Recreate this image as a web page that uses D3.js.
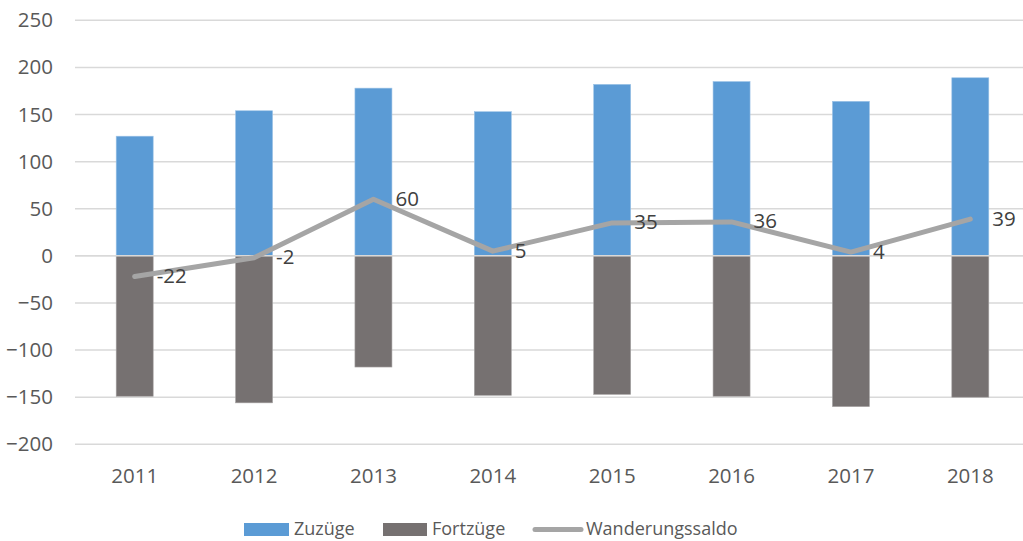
<!DOCTYPE html>
<html><head><meta charset="utf-8">
<script src="https://cdn.jsdelivr.net/npm/d3@7"></script>
<style>body{margin:0;background:#fff;} svg{display:block;}</style>
</head><body>
<script>
const years = ["2011","2012","2013","2014","2015","2016","2017","2018"];
const zuzuege = [127,154,178,153,182,185,164,189];
const fortzuege = [-149,-156,-118,-148,-147,-149,-160,-150];
const saldo = [-22,-2,60,5,35,36,4,39];
const yTicks = [250,200,150,100,50,0,-50,-100,-150,-200];
const seriesNames = ["Zuzüge","Fortzüge","Wanderungssaldo"];

const W=1023,H=541;
const font = "'Open Sans', sans-serif";
const svg = d3.select("body").append("svg").attr("width",W).attr("height",H);
const x = d3.scaleBand().domain(years).range([75,1030]);
const y = d3.scaleLinear().domain([-200,250]).range([444.3,20.3]);

// gridlines
svg.append("g").selectAll("line").data(yTicks).join("line")
  .attr("x1",75).attr("x2",1030).attr("y1",d=>y(d)).attr("y2",d=>y(d))
  .attr("stroke","#D9D9D9").attr("stroke-width",1.5);

// y axis labels
const yAxis = d3.axisLeft(y).tickValues(yTicks).tickSize(0).tickPadding(0);
const ya = svg.append("g").attr("transform","translate(53,0)").call(yAxis);
ya.select(".domain").remove();
ya.selectAll("text").attr("font-family",font).attr("font-size",20.5).attr("fill","#595959");

// x axis labels
const xAxis = d3.axisBottom(x).tickSize(0).tickPadding(0);
const xa = svg.append("g").attr("transform","translate(0,468)").call(xAxis);
xa.select(".domain").remove();
xa.selectAll("text").attr("font-family",font).attr("font-size",20.5).attr("fill","#595959");

const bw = 37;
const cx = d => x(d)+x.bandwidth()/2;
svg.append("g").selectAll("rect").data(years).join("rect")
  .attr("x",d=>cx(d)-bw/2).attr("width",bw)
  .attr("y",(d,i)=>y(zuzuege[i])).attr("height",(d,i)=>y(0)-y(zuzuege[i]))
  .attr("fill","#5B9BD5").attr("stroke","#9DC3E6").attr("stroke-width",0.6);
svg.append("g").selectAll("rect").data(years).join("rect")
  .attr("x",d=>cx(d)-bw/2).attr("width",bw)
  .attr("y",y(0)).attr("height",(d,i)=>y(fortzuege[i])-y(0))
  .attr("fill","#767171").attr("stroke","#A6A3A3").attr("stroke-width",0.6);

svg.append("line").attr("x1",75).attr("x2",1030).attr("y1",y(0)).attr("y2",y(0))
  .attr("stroke","#D9D9D9").attr("stroke-width",1.5);

const line = d3.line().x((d,i)=>cx(years[i])).y(d=>y(d));
svg.append("path").datum(saldo).attr("d",line).attr("fill","none")
  .attr("stroke","#A5A5A5").attr("stroke-width",5).attr("stroke-linecap","round").attr("stroke-linejoin","round");

svg.append("g").selectAll("text").data(saldo).join("text")
  .attr("x",(d,i)=>cx(years[i])+22).attr("y",d=>y(d)+1)
  .attr("dominant-baseline","middle")
  .attr("font-family",font).attr("font-size",20.5).attr("fill","#404040")
  .text(d=>d);

// legend
const lg = svg.append("g");
const lfs = 18;
lg.append("rect").attr("x",244).attr("y",523).attr("width",45).attr("height",13).attr("fill","#5B9BD5");
lg.append("text").attr("x",294).attr("y",530).attr("dominant-baseline","middle").attr("font-family",font).attr("font-size",lfs).attr("fill","#595959").text(seriesNames[0]);
lg.append("rect").attr("x",383).attr("y",523).attr("width",44).attr("height",13).attr("fill","#767171");
lg.append("text").attr("x",432).attr("y",530).attr("dominant-baseline","middle").attr("font-family",font).attr("font-size",lfs).attr("fill","#595959").text(seriesNames[1]);
lg.append("line").attr("x1",535).attr("x2",581).attr("y1",529.5).attr("y2",529.5).attr("stroke","#A5A5A5").attr("stroke-width",5).attr("stroke-linecap","round");
lg.append("text").attr("x",586).attr("y",530).attr("dominant-baseline","middle").attr("font-family",font).attr("font-size",lfs).attr("fill","#595959").text(seriesNames[2]);
</script>
</body></html>
